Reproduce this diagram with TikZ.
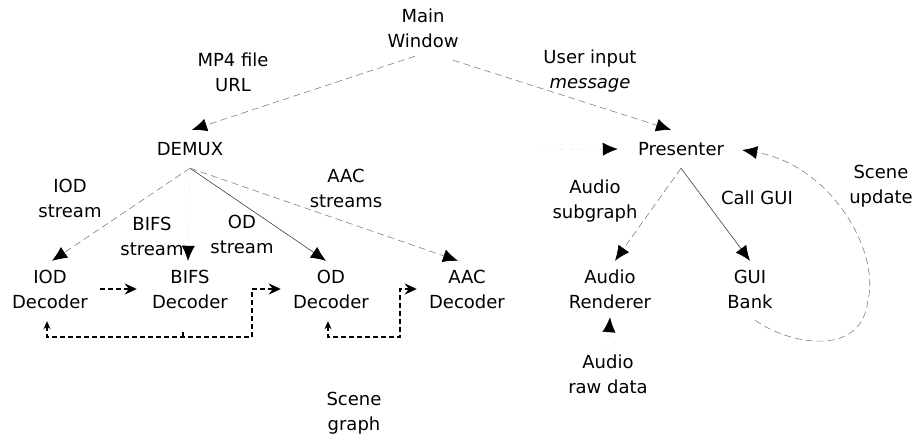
\documentclass[tikz,border=0pt]{standalone}
\usepackage{fontspec}
\setmainfont{DejaVu Sans}
\usetikzlibrary{arrows.meta,calc}
\begin{document}
\begin{tikzpicture}[x=1pt,y=-1pt,
  lab/.style={font=\fontsize{18}{25}\selectfont, align=center, inner sep=0pt},
  box/.style={lab, minimum width=100pt, minimum height=56pt},
  thinln/.style={draw=black!75, line width=0.6pt},
  dashln/.style={draw=black!50, line width=0.6pt, dash pattern=on 7pt off 4pt},
  ghost/.style={draw=black!10, line width=0.5pt, dash pattern=on 3pt off 7pt},
  arw/.style={-{Latex[length=15pt,width=13pt,color=black,fill=black]}},
  heavy/.style={draw=black, line width=1.8pt, dash pattern=on 5pt off 3pt},
  harw/.style={-{Stealth[length=12pt,width=11pt]}},
  hboth/.style={{Stealth[length=8pt,width=7pt]}-{Stealth[length=12pt,width=11pt]}}
]
\useasboundingbox (0,0) rectangle (916,438);

% nodes
\node[lab, minimum width=145pt, minimum height=52pt] (main) at (423,28) {Main\\Window};
\node[lab] (mp4) at (233,72) {MP4 file\\URL};
\node[lab] (user) at (590,71) {User input\\\textit{message}};
\node[lab, minimum width=105pt, minimum height=38pt] (demux) at (190,149) {DEMUX};
\node[lab, minimum width=100pt, minimum height=38pt] (presenter) at (681,149) {Presenter};
\node[lab] (iodlab) at (70,198) {IOD\\stream};
\node[lab] (bifslab) at (152,236) {BIFS\\stream};
\node[lab] (odlab) at (242,234) {OD\\stream};
\node[lab] (aaclab) at (346,188) {AAC\\streams};
\node[box] (iod) at (50,289) {IOD\\Decoder};
\node[box] (bifs) at (190,289) {BIFS\\Decoder};
\node[box] (od) at (331,289) {OD\\Decoder};
\node[box] (aac) at (467,289) {AAC\\Decoder};
\node[box] (audio) at (610,289) {Audio\\Renderer};
\node[box] (gui) at (750,289) {GUI\\Bank};
\node[lab] (audlab) at (595,201) {Audio\\subgraph};
\node[lab] (calllab) at (757,198) {Call GUI};
\node[lab] (scenelab) at (881,186) {Scene\\update};
\node[lab, minimum height=52pt] (raw) at (608,374) {Audio\\raw data};
\node[lab] (sgraph) at (354,413) {Scene\\graph};

% thin connectors
\draw[dashln, arw] ($(main.south)+(-8,2)$) -- ($(demux.north)+(2,0)$);
\draw[dashln, arw] ($(main.south)+(30,6)$) -- ($(presenter.north)+(-10,0)$);
\draw[dashln, arw] (demux.south) -- ($(iod.north)+(2,0)$);
\draw[ghost, arw] (demux.south) -- ($(bifs.north)+(-2,0)$);
\draw[thinln, arw] (demux.south) -- ($(od.north)+(-5,0)$);
\draw[dashln, arw] (demux.south) -- ($(aac.north)+(-9,0)$);
\draw[dashln, arw] (presenter.south) -- ($(audio.north)+(5,0)$);
\draw[thinln, arw] (presenter.south) -- (gui.north);
\draw[ghost, arw] (raw.north) -- (audio.south);
\coordinate (pin) at (540,150);
\draw[ghost, arw] (pin) -- ($(presenter.west)+(-13,0)$);
\draw[dashln, arw] ($(gui.south)+(5,3)$) .. controls (790,345) and (862,358) .. (868,300)
  .. controls (880,250) and (830,165) .. ($(presenter.east)+(11,1)$);

% heavy dashed connectors
\draw[heavy, harw] (iod.east) -- ($(bifs.west)+(-3,0)$);
\coordinate (c1) at (252,337);
\draw[heavy, hboth] ($(iod.south)+(-3,4)$) |- (c1) |- (od.west);
\coordinate (tick) at (183,337);
\draw[heavy] (tick) -- ++(0,-7);
\coordinate (c2) at (400,337);
\draw[heavy, hboth] ($(od.south)+(-3,4)$) |- (c2) |- (aac.west);
\end{tikzpicture}
\end{document}
